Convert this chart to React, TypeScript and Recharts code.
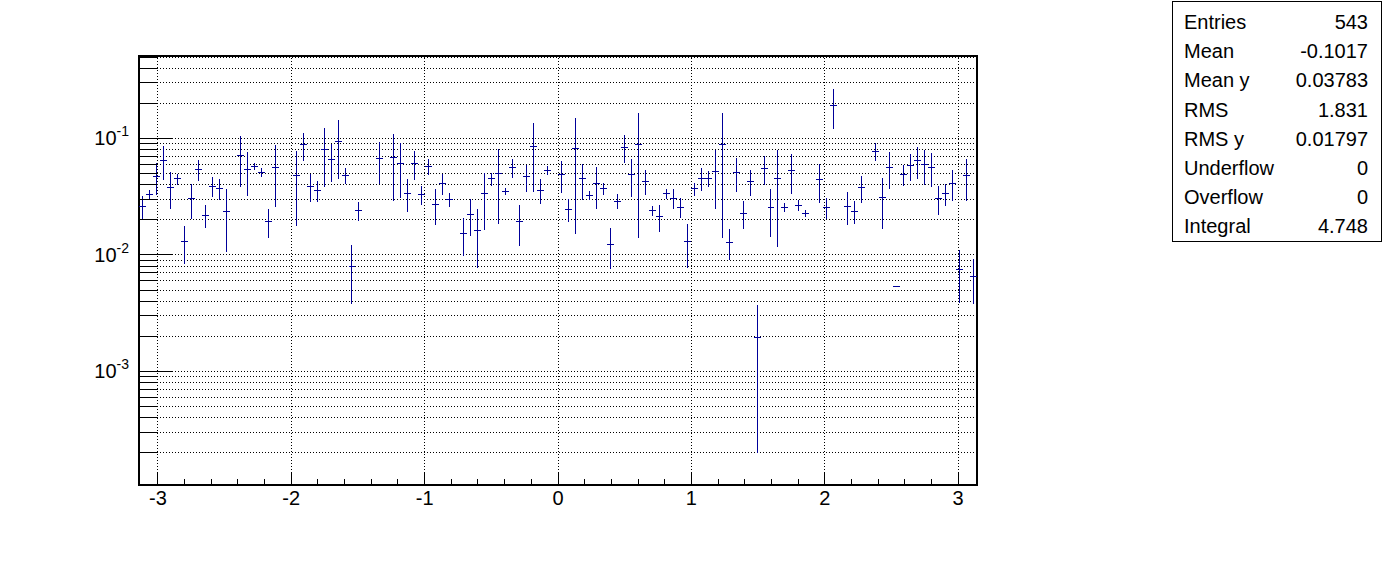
import { ComposedChart, Scatter, XAxis, YAxis, ErrorBar, ReferenceLine, ReferenceArea } from "recharts";

// 120 bins over [-pi, pi]; null = empty bin
const binContent = [
  0.026, 0.033, 0.047, 0.065, 0.038, 0.045, 0.013, 0.0305, 0.054, 0.022,
  0.039, 0.037, 0.0237, null, 0.0715, 0.054, 0.0575, 0.051, 0.0194, 0.0564,
  null, null, 0.048, 0.088, 0.039, 0.036, 0.08, 0.066, 0.094, 0.048,
  0.008, 0.024, null, null, 0.067, null, 0.069, 0.061, 0.034, 0.061,
  0.033, 0.0575, 0.0272, 0.041, 0.03, null, 0.0153, 0.0223, 0.0162, 0.0337,
  0.045, 0.05, 0.035, 0.056, 0.0194, 0.047, 0.085, 0.036, 0.0535, null,
  0.049, 0.0246, 0.082, 0.045, 0.0324, 0.041, 0.037, 0.0123, 0.029, 0.084,
  0.049, 0.089, 0.043, 0.024, 0.0214, 0.0337, 0.0306, 0.0256, 0.0131, 0.037,
  0.0455, 0.0455, 0.052, 0.089, 0.0128, 0.051, 0.0228, 0.043, 0.00197, 0.055,
  0.0256, 0.0455, 0.0256, 0.0535, 0.0266, 0.0227, null, 0.044, 0.0256, 0.193,
  null, 0.0263, 0.0236, 0.038, null, 0.078, 0.0313, 0.0564, 0.00536, 0.049,
  0.0586, 0.065, 0.06, 0.0564, 0.0306, 0.0337, 0.041, 0.0075, 0.048, 0.0065,
];

const binError = [
  0.006, 0.003, 0.0146, 0.021, 0.0133, 0.005, 0.0047, 0.0101, 0.011, 0.005,
  0.0077, 0.0075, 0.0131, 0, 0.033, 0.022, 0.0041, 0.0047, 0.0053, 0.0307,
  0, 0, 0.0303, 0.0234, 0.0103, 0.0075, 0.042, 0.0236, 0.049, 0.0074,
  0.0042, 0.0046, 0, 0, 0.026, 0, 0.04, 0.03, 0.0107, 0.0173,
  0.0064, 0.0093, 0.0093, 0.0081, 0.0042, 0, 0.0056, 0.0077, 0.0085, 0.0173,
  0.0058, 0.0316, 0.0022, 0.01, 0.0074, 0.0122, 0.05, 0.0085, 0.0046, 0,
  0.0148, 0.0054, 0.067, 0.0155, 0.003, 0.0163, 0.0042, 0.0047, 0.0042, 0.0222,
  0.0178, 0.075, 0.0103, 0.0024, 0.0056, 0.0032, 0.006, 0.005, 0.0054, 0.0047,
  0.0101, 0.007, 0.027, 0.075, 0.0038, 0.0165, 0.006, 0.011, 0.00177, 0.0153,
  0.0114, 0.0338, 0.0024, 0.02, 0.003, 0.0016, 0, 0.0163, 0.0052, 0.073,
  0, 0.0084, 0.0053, 0.01, 0, 0.0138, 0.0145, 0.0197, 0.0001, 0.01,
  0.0155, 0.0198, 0.02, 0.0184, 0.0085, 0.0073, 0.0122, 0.0036, 0.019, 0.0027,
];

const xMajorTicks = [-3, -2, -1, 0, 1, 2, 3];
const xMinorTicks = [
  -3, -2.8, -2.6, -2.4, -2.2, -2, -1.8, -1.6, -1.4, -1.2, -1, -0.8, -0.6, -0.4, -0.2,
  0, 0.2, 0.4, 0.6, 0.8, 1, 1.2, 1.4, 1.6, 1.8, 2, 2.2, 2.4, 2.6, 2.8, 3,
];
const yDecades = [1e-4, 1e-3, 1e-2, 1e-1];
const yMantissas = [1, 2, 3, 4, 5, 6, 7, 8, 9];

const stats = [
  ["Entries", "543"],
  ["Mean", "-0.1017"],
  ["Mean y", "0.03783"],
  ["RMS", "1.831"],
  ["RMS y", "0.01797"],
  ["Underflow", "0"],
  ["Overflow", "0"],
  ["Integral", "4.748"],
];

const X_MIN = -Math.PI;
const X_MAX = Math.PI;
const Y_MIN = 1.06e-4;
const Y_MAX = 0.51;
const BIN_W = (X_MAX - X_MIN) / binContent.length;

const PLOT_LEFT = 139;
const PLOT_BOTTOM = 485;
const COLOR = "#000099";
const FONT = "'Liberation Sans', Arial, Helvetica, sans-serif";

const points = binContent
  .map((v, i) => (v == null ? null : { x: X_MIN + BIN_W * (i + 0.5), y: v, ey: binError[i], ex: BIN_W / 2 }))
  .filter(Boolean);

const yTicks = yDecades
  .flatMap((d) => yMantissas.map((m) => +(m * d).toPrecision(3)))
  .filter((v) => v > Y_MIN && v < Y_MAX * 0.99);

function XTick({ x, payload }: any) {
  const v = payload.value;
  const major = xMajorTicks.includes(Math.round(v * 10) / 10);
  return (
    <g>
      <line x1={x} x2={x} y1={PLOT_BOTTOM} y2={PLOT_BOTTOM - (major ? 12 : 6)} stroke="#000" strokeWidth={1} shapeRendering="crispEdges" />
      {major && (
        <text x={x} y={PLOT_BOTTOM + 20} textAnchor="middle" fontSize={20} fontFamily={FONT} fill="#000">
          {v}
        </text>
      )}
    </g>
  );
}

function YTick({ y, payload }: any) {
  const v = payload.value;
  const lg = Math.log10(v);
  const exp = Math.round(lg);
  const major = Math.abs(lg - exp) < 1e-6;
  return (
    <g>
      <line x1={PLOT_LEFT} x2={PLOT_LEFT + (major ? 34 : 18)} y1={y} y2={y} stroke="#000" strokeWidth={1} shapeRendering="crispEdges" />
      {major && (
        <text x={129} y={y + 7} textAnchor="end" fontSize={20} fontFamily={FONT} fill="#000">
          10
          <tspan dy={-9} fontSize={14}>{exp}</tspan>
        </text>
      )}
    </g>
  );
}

export default function App() {
  return (
    <div style={{ position: "absolute", left: 0, top: 0, width: 1396, height: 572, background: "#fff" }}>
      <ComposedChart width={1396} height={572} data={points} margin={{ top: 56, right: 419, left: 0, bottom: 0 }}>
        <XAxis
          type="number"
          dataKey="x"
          domain={[X_MIN, X_MAX]}
          allowDataOverflow
          ticks={xMinorTicks}
          interval={0}
          height={87}
          tickLine={false}
          axisLine={false}
          tick={<XTick />}
        />
        <YAxis
          type="number"
          scale="log"
          domain={[Y_MIN, Y_MAX]}
          allowDataOverflow
          ticks={yTicks}
          interval={0}
          width={139}
          tickLine={false}
          axisLine={false}
          tick={<YTick />}
        />
        {yTicks.map((v) => (
          <ReferenceLine key={"gy" + v} y={v} stroke="#000" strokeWidth={1} strokeDasharray="1 2" shapeRendering="crispEdges" />
        ))}
        {xMajorTicks.map((v) => (
          <ReferenceLine key={"gx" + v} x={v} stroke="#000" strokeWidth={1} strokeDasharray="1 2" shapeRendering="crispEdges" />
        ))}
        <Scatter dataKey="y" isAnimationActive={false} shape={() => <g />}>
          <ErrorBar dataKey="ey" direction="y" width={0} stroke={COLOR} strokeWidth={1} shapeRendering="crispEdges" isAnimationActive={false} />
          <ErrorBar dataKey="ex" direction="x" width={0} stroke={COLOR} strokeWidth={1} shapeRendering="crispEdges" isAnimationActive={false} />
        </Scatter>
        <ReferenceArea x1={X_MIN} x2={X_MAX} y1={Y_MIN} y2={Y_MAX} fill="none" stroke="#000" strokeWidth={2} />
      </ComposedChart>
      <div
        style={{
          position: "absolute",
          left: 1172,
          top: 1,
          width: 208,
          height: 239,
          border: "1px solid #000",
          fontFamily: FONT,
          fontSize: 20,
          background: "#fff",
        }}
      >
        {stats.map(([k, v], i) => (
          <div
            key={k}
            style={{ position: "absolute", left: 11, right: 13, top: 6 + i * 29.2, height: 28, display: "flex", justifyContent: "space-between", lineHeight: "28px" }}
          >
            <span>{k}</span>
            <span>{v}</span>
          </div>
        ))}
      </div>
    </div>
  );
}
